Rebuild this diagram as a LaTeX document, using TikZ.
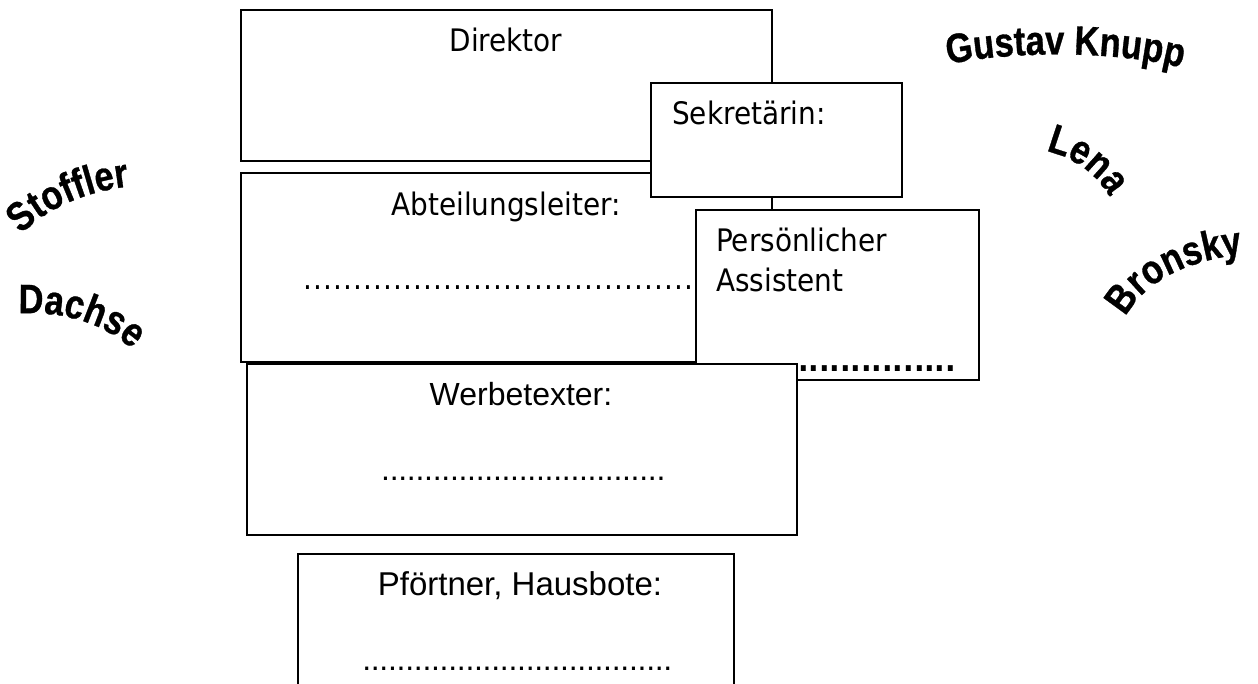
\documentclass[tikz,border=0pt]{standalone}
\usepackage{fontspec}
\usetikzlibrary{decorations.text}
\newfontfamily\tah{DejaVu Sans Condensed}
\newfontfamily\ari{Liberation Sans}
\newfontfamily\waf{Liberation Sans}[FakeStretch=0.84,FakeBold=0.8]
\newcommand\dotrow[2]{\hbox to #1{\cleaders\hbox to #2{\hss.\hss}\hfill}}
\begin{document}
\begin{tikzpicture}[x=1pt,y=-1pt,
  box/.style={draw=black, line width=1.9pt, fill=white, inner sep=0pt, outer sep=0pt, anchor=north west},
  tahtext/.style={font=\tah\fontsize{31}{37}\selectfont, inner sep=0pt},
  aritext/.style={font=\ari\fontsize{32}{38}\selectfont, inner sep=0pt},
  wa/.style={decorate, decoration={text along path, text align=center,
     text={|\waf\bfseries\fontsize{41}{48}\selectfont|#1}}}]
\useasboundingbox (0,0) rectangle (1258,684);
\clip (0,0) rectangle (1258,684);
% Direktor
\node[box, minimum width=531pt, minimum height=151pt] (dir) at (241,10) {};
\node[tahtext, anchor=base] (dirT) at (506,52) {Direktor};
% Abteilungsleiter
\node[box, minimum width=531pt, minimum height=189pt] (abt) at (241,173) {};
\node[tahtext, anchor=base] (abtT) at (506,216) {Abteilungsleiter:};
\node[tahtext, anchor=base west] (abtD) at (303,290) {\dotrow{420pt}{10pt}};
% Sekretaerin
\node[box, minimum width=251pt, minimum height=114pt] (sek) at (651,83) {};
\node[tahtext, anchor=base west] (sekT) at (672,125) {Sekretärin:};
% Persoenlicher Assistent
\node[box, minimum width=283pt, minimum height=170pt] (pers) at (696,210) {};
\node[tahtext, anchor=base west] (persT1) at (716,252) {Persönlicher};
\node[tahtext, anchor=base west] (persT2) at (716,292) {Assistent};
\node[tahtext, anchor=base west] (persD) at (797,371) {\bfseries\dotrow{160pt}{10.5pt}};
% Werbetexter
\node[box, minimum width=550pt, minimum height=171pt] (werb) at (247,364) {};
\node[aritext, anchor=base] (werbT) at (521,405) {Werbetexter:};
\node[aritext, anchor=base west] (werbD) at (378,480) {\dotrow{290pt}{8.6pt}};
% Pfoertner
\node[box, minimum width=436pt, minimum height=160pt] (pfo) at (298,554) {};
\node[aritext, font=\ari\fontsize{33}{39}\selectfont, anchor=base] (pfoT) at (520,595) {Pförtner, Hausbote:};
\node[aritext, anchor=base west] (pfoD) at (358,670) {\dotrow{318pt}{8.6pt}};
% WordArt names
\path[wa={Gustav Knupp}] (940,66) .. controls (1008,50) and (1122,50) .. (1190,70);
\path[wa={Lena}] (1040,150) .. controls (1068,154) and (1098,172) .. (1112,202);
\path[wa={Bronsky}] (1124,320) .. controls (1142,283) and (1185,260) .. (1246,254);
\path[wa={Stoffler}] (18,238) .. controls (42,210) and (87,190) .. (134,186);
\path[wa={Dachse}] (12,314) .. controls (55,310) and (104,320) .. (137,354);
\end{tikzpicture}
\end{document}
